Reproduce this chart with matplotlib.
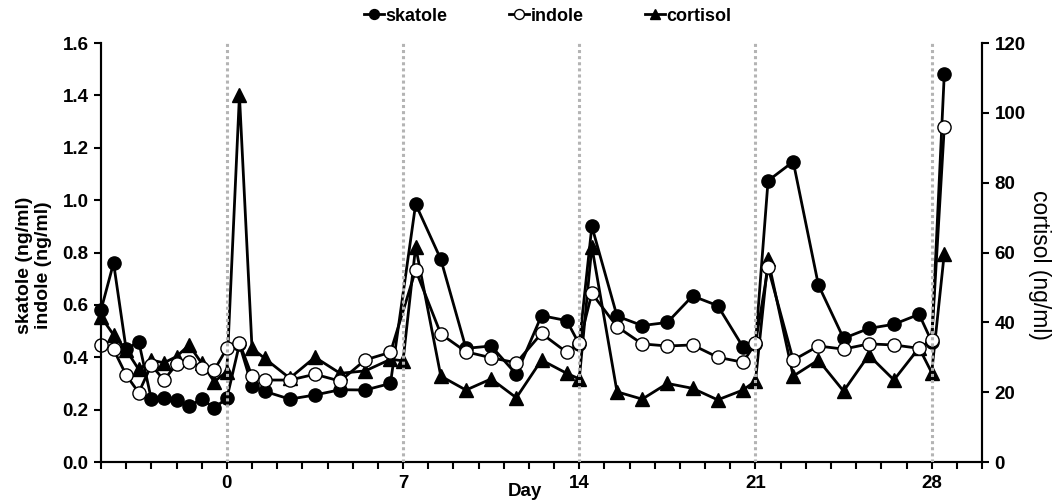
import numpy as np
import matplotlib.pyplot as plt

plt.rcParams['font.family'] = ['Liberation Sans', 'DejaVu Sans']

days = np.array([-5, -4.5, -4, -3.5, -3, -2.5, -2, -1.5, -1, -0.5, 0, 0.5, 1, 1.5, 2.5, 3.5,
                 4.5, 5.5, 6.5, 7, 7.5, 8.5, 9.5, 10.5, 11.5, 12.5, 13.5, 14, 14.5, 15.5,
                 16.5, 17.5, 18.5, 19.5, 20.5, 21, 21.5, 22.5, 23.5, 24.5, 25.5, 26.5,
                 27.5, 28, 28.5])
skatole = np.array([0.58, 0.76, 0.43, 0.46, 0.24, 0.244, 0.237, 0.214, 0.24, 0.207, 0.243,
                    0.45, 0.29, 0.27, 0.24, 0.256, 0.276, 0.275, 0.30, np.nan, 0.985, 0.774,
                    0.434, 0.443, 0.335, 0.559, 0.54, 0.45, 0.90, 0.557, 0.521, 0.533, 0.634,
                    0.597, 0.44, 0.45, 1.074, 1.147, 0.676, 0.472, 0.51, 0.526, 0.564, 0.46,
                    1.48])
indole = np.array([0.447, 0.43, 0.332, 0.265, 0.37, 0.313, 0.373, 0.383, 0.36, 0.351, 0.434,
                   0.455, 0.328, 0.313, 0.313, 0.335, 0.309, 0.39, 0.419, np.nan, 0.733, 0.489,
                   0.421, 0.398, 0.379, 0.491, 0.419, 0.453, 0.644, 0.517, 0.451, 0.443, 0.447,
                   0.40, 0.381, 0.453, 0.743, 0.389, 0.443, 0.431, 0.451, 0.447, 0.434, 0.466,
                   1.278])
cortisol = np.array([41.6, 36.4, 32.1, 26.5, 29.2, 28.4, 30.2, 33.5, 28.3, 23.0, 25.9, 105,
                     32.6, 29.7, 24.0, 30.0, 25.4, 26.1, 29.4, 29.0, 61.7, 24.6, 20.6, 23.8,
                     18.4, 29.2, 25.4, 23.8, 61.7, 20.1, 18.0, 22.5, 21.1, 17.8, 20.6, 23.2,
                     58.0, 24.6, 29.2, 20.3, 30.6, 23.5, 32.7, 25.6, 59.7])
week_days = [0, 7, 14, 21, 28]

fig = plt.figure(figsize=(10.53, 5.03), dpi=100)
ax = fig.add_axes([0.0959, 0.0815, 0.8367, 0.833])
ax2 = ax.twinx()
ax.set_zorder(ax2.get_zorder() + 1)
ax.patch.set_visible(False)

lw = 2.0
ms = 9.5
h3, = ax2.plot(days, cortisol, color='black', lw=lw, marker='^', ms=ms,
               mfc='black', mec='black', label='cortisol', clip_on=False)
m = ~np.isnan(skatole)
h1, = ax.plot(days[m], skatole[m], color='black', lw=lw, marker='o', ms=ms,
              mfc='black', mec='black', label='skatole', clip_on=False)
m = ~np.isnan(indole)
h2, = ax.plot(days[m], indole[m], color='black', lw=lw, marker='o', ms=ms,
              mfc='white', mec='black', mew=1.0, label='indole', clip_on=False)

for d in week_days:
    ax.axvline(d, color='#b4b4b4', ls=(0, (1, 1)), lw=2.2, zorder=5)

ax.set_xlim(-5, 30)
ax.set_ylim(0, 1.6)
ax2.set_ylim(0, 120)
ax.set_xticks(np.arange(-5, 31, 1))
ax.set_xticklabels([str(d) if d in week_days else '' for d in range(-5, 31)])
ax.set_yticks(np.arange(0, 1.61, 0.2))
ax.set_yticklabels(['%.1f' % v for v in np.arange(0, 1.61, 0.2)])
ax2.set_yticks(np.arange(0, 121, 20))

for a in (ax, ax2):
    a.spines['top'].set_visible(False)
    for s in a.spines.values():
        s.set_linewidth(1.5)
    a.tick_params(direction='out', length=5, width=1.5, labelsize=13.5, pad=4)
    for lab in a.get_xticklabels() + a.get_yticklabels():
        lab.set_fontweight('bold')

ax.set_xlabel('Day', fontsize=13.5, fontweight='bold')
ax.xaxis.set_label_coords(0.481, -0.05)
ax.set_ylabel('skatole (ng/ml)\nindole (ng/ml)', fontsize=14, fontweight='bold',
              linespacing=1.1)
ax.yaxis.set_label_coords(-0.056, 0.47)
ax2.set_ylabel('cortisol (ng/ml)', fontsize=16.5, rotation=270, va='center')
ax2.yaxis.set_label_coords(1.065, 0.47)

fig.legend(handles=[h1, h2, h3], loc='center', bbox_to_anchor=(0.52, 0.968), ncol=3,
           frameon=False, handlelength=1.1, handletextpad=0.1, columnspacing=3.4,
           markerscale=0.75, prop={'size': 13, 'weight': 'bold'})

fig.savefig('out.png', dpi=100)
